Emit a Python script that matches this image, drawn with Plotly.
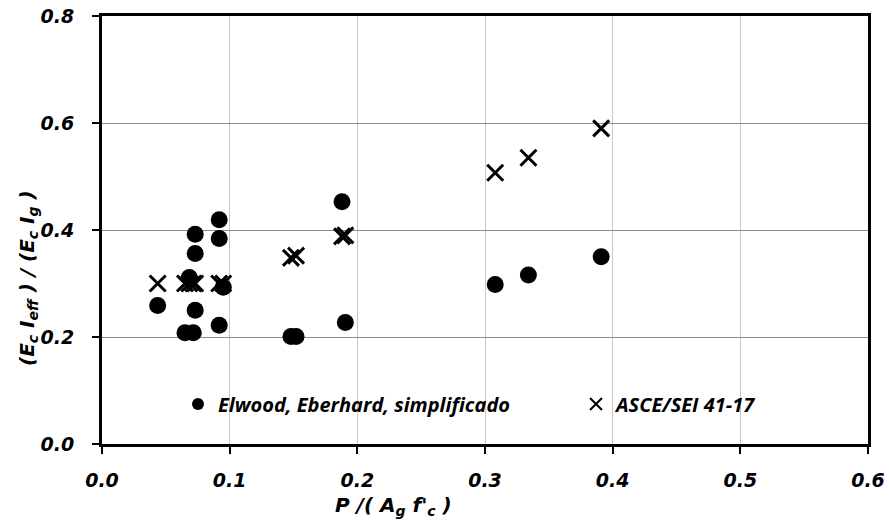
import plotly.graph_objects as go

# Elwood, Eberhard, simplificado (circles)
elwood_x = [0.0436, 0.065, 0.0715, 0.0684, 0.073, 0.073, 0.073, 0.0918, 0.0918, 0.0918, 0.095,
            0.148, 0.152, 0.188, 0.1906, 0.308, 0.334, 0.391]
elwood_y = [0.259, 0.208, 0.208, 0.311, 0.250, 0.356, 0.392, 0.419, 0.384, 0.222, 0.293,
            0.201, 0.201, 0.453, 0.227, 0.298, 0.316, 0.350]

# ASCE/SEI 41-17 (crosses)
asce_x = [0.0436, 0.065, 0.0715, 0.0684, 0.073, 0.0918, 0.095,
          0.148, 0.152, 0.188, 0.1906, 0.308, 0.334, 0.391]
asce_y = [0.300, 0.300, 0.300, 0.300, 0.300, 0.300, 0.300,
          0.348, 0.352, 0.388, 0.390, 0.507, 0.535, 0.590]

x_ticks = [0.0, 0.1, 0.2, 0.3, 0.4, 0.5, 0.6]
y_ticks = [0.0, 0.2, 0.4, 0.6, 0.8]

AX_FONT = "DejaVu Sans"
LEG_FONT = "Open Sans"

fig = go.Figure()
fig.add_trace(go.Scatter(
    x=elwood_x, y=elwood_y, mode="markers",
    name="Elwood, Eberhard, simplificado", legend="legend",
    marker=dict(symbol="circle", size=17, color="black"),
))
fig.add_trace(go.Scatter(
    x=asce_x, y=asce_y, mode="markers",
    name="ASCE/SEI 41-17", legend="legend2",
    marker=dict(symbol="x-thin", size=16, color="black",
                line=dict(color="black", width=3)),
))

axis_common = dict(
    showline=True, linecolor="black", linewidth=3, mirror=True,
    ticks="outside", ticklen=7, tickwidth=2, tickcolor="black",
    zeroline=False, automargin=False,
    tickfont=dict(family=AX_FONT, size=19, color="black", weight="bold", style="italic"),
)

fig.update_xaxes(
    range=[0, 0.6], tickvals=x_ticks, ticktext=[f"{v:.1f}" for v in x_ticks],
    showgrid=True, gridcolor="#c8c8c8", gridwidth=1,
    ticklabelstandoff=10,
    **axis_common,
)
fig.update_yaxes(
    range=[0, 0.8], tickvals=y_ticks, ticktext=[f"{v:.1f}" for v in y_ticks],
    showgrid=True, gridcolor="#8c8c8c", gridwidth=1,
    ticklabelstandoff=14,
    **axis_common,
)

title_font = dict(family=AX_FONT, size=20, color="black", weight="bold", style="italic")
fig.add_annotation(
    text="P /( A<sub>g</sub> f'<sub>c</sub> )", xref="paper", yref="paper",
    x=(393 - 102) / 766, y=-(506 - 444) / 428, showarrow=False,
    xanchor="center", yanchor="middle", font=title_font,
)
fig.add_annotation(
    text="(E<sub>c</sub> I<sub>eff</sub> ) / (E<sub>c</sub> I<sub>g</sub> )",
    xref="paper", yref="paper",
    x=-(102 - 28) / 766, y=(444 - 278) / 428, showarrow=False, textangle=-90,
    xanchor="center", yanchor="middle", font=title_font,
)

leg_font = dict(family=LEG_FONT, size=20, color="black", weight="bold", style="italic")
fig.update_layout(
    width=889, height=525,
    margin=dict(l=102, r=21, t=16, b=81),
    paper_bgcolor="white", plot_bgcolor="white",
    showlegend=True,
    legend=dict(
        orientation="h", x=(196 - 18 - 102) / 766, xanchor="left",
        y=(444 - 404) / 428, yanchor="middle",
        bgcolor="rgba(0,0,0,0)", itemsizing="constant", font=leg_font,
    ),
    legend2=dict(
        orientation="h", x=(594 - 18 - 102) / 766, xanchor="left",
        y=(444 - 404) / 428, yanchor="middle",
        bgcolor="rgba(0,0,0,0)", itemsizing="constant", font=leg_font,
    ),
)

fig.write_html("out.html")
